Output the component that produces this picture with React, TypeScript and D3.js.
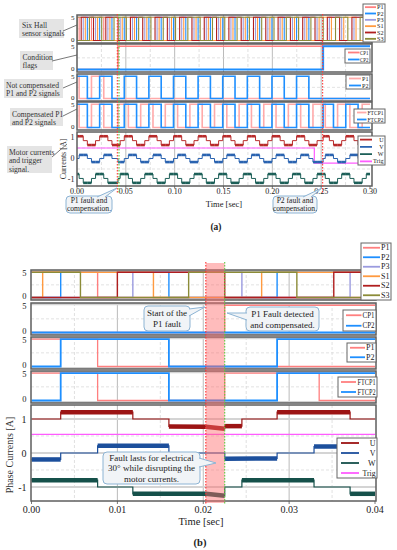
import React from "react";
import * as d3 from "d3";

type Sig = { start: number; edges: number[] };
// t0, t1, value at t0, value at t1, conducting (drawn thick)
type Seg = [number, number, number, number, number];

const FONT = "'Liberation Serif', 'Times New Roman', serif";

const COL: Record<string, string> = {
  P1: "#ff7f7f",
  P2: "#1e8fff",
  P3: "#9b9bdf",
  S1: "#ff9a40",
  S2: "#b01e1e",
  S3: "#8c8c38",
  U: "#9c1414",
  V: "#1c4f9c",
  W: "#15504a",
  Trig: "#ff5cff",
};
const HALL_KEYS = ["P1", "P2", "P3", "S1", "S2", "S3"];

// ---------------- (a) long record 0 .. 0.30 s ----------------
const A_TICKS = [0, 0.05, 0.1, 0.15, 0.2, 0.25, 0.3];
const A_MINOR = [0.025, 0.075, 0.125, 0.175, 0.225, 0.275];
// P2 edges (P2 is low before the first one)
const A_P2_EDGES = [
  -0.002, 0.0106, 0.0232, 0.0358, 0.0484, 0.061, 0.0736, 0.0862, 0.0988,
  0.1114, 0.124, 0.1366, 0.1492, 0.1618, 0.1744, 0.187, 0.1996, 0.2122,
  0.2248, 0.2374, 0.25, 0.2626, 0.2752, 0.2878, 0.3004,
];
// other sensors follow P2 with a fixed lag in s (inv = opposite level)
const A_LAGS = [
  { key: "P1", lag: 0.0042, inv: true },
  { key: "P2", lag: 0, inv: false },
  { key: "P3", lag: -0.0042, inv: true },
  { key: "S1", lag: -0.0021, inv: false },
  { key: "S2", lag: -0.0063, inv: true },
  { key: "S3", lag: 0.0021, inv: true },
];
const A_FAULTS = [
  { key: "P1", at: 0.04, detect: 0.042 },
  { key: "P2", at: 0.25, detect: 0.252 },
];
const A_TRIG: [number, number][] = [
  [0, 0.5],
  [0.243, 0.5],
  [0.243, -0.22],
  [0.3, -0.22],
];
const A_LEVELS: Record<string, [number, number]> = {
  U: [0.85, 0.21],
  V: [0, 0.17],
  W: [-0.95, 0.21],
};

// ---------------- (b) zoom 0 .. 0.04 s ----------------
const B_TICKS = [0, 0.01, 0.02, 0.03, 0.04];
const B_MINOR = [0.005, 0.015, 0.025, 0.035];
const B_HALL: Record<string, Sig> = {
  P1: { start: 5, edges: [0.0077] },
  P2: { start: 0, edges: [0.0034, 0.016, 0.0286] },
  P3: { start: 0, edges: [0.0118, 0.0245, 0.0371] },
  S1: { start: 0, edges: [0.0013, 0.0142, 0.0268, 0.0394] },
  S2: { start: 0, edges: [0.01, 0.0225, 0.0352] },
  S3: { start: 5, edges: [0.0057, 0.0183, 0.0309] },
};
const B_CP1: Sig = { start: 0, edges: [0.0225] };
const B_CP2: Sig = { start: 0, edges: [] };
const B_FTCP1: Sig = { start: 5, edges: [0.0077, 0.0225, 0.0335] };
const B_FTCP2: Sig = { start: 0, edges: [0.0034, 0.016, 0.0286] };
const B_FAULT = [0.0203, 0.0225];
const B_U: Seg[] = [
  [0, 0.0034, 1.0, 1.0, 0],
  [0.0034, 0.0118, 1.2, 1.2, 1],
  [0.0118, 0.016, 1.0, 1.0, 0],
  [0.016, 0.0203, 0.78, 0.77, 1],
  [0.0203, 0.0225, 0.77, 0.71, 1],
  [0.0225, 0.0245, 0.79, 0.79, 1],
  [0.0245, 0.0286, 1.0, 1.0, 0],
  [0.0286, 0.0371, 1.2, 1.2, 1],
  [0.0371, 0.04, 1.0, 1.0, 0],
];
const B_V: Seg[] = [
  [0, 0.0034, -0.19, -0.19, 1],
  [0.0034, 0.0077, 0, 0, 0],
  [0.0077, 0.016, 0.21, 0.21, 1],
  [0.016, 0.0225, 0, 0, 0],
  [0.0225, 0.0286, -0.17, -0.16, 1],
  [0.0286, 0.0329, 0, 0, 0],
  [0.0329, 0.04, 0.19, 0.19, 1],
];
const B_W: Seg[] = [
  [0, 0.0077, -0.8, -0.8, 1],
  [0.0077, 0.0118, -1.0, -1.0, 0],
  [0.0118, 0.0203, -1.2, -1.2, 1],
  [0.0203, 0.0225, -1.2, -1.26, 1],
  [0.0225, 0.0245, -1.0, -1.0, 0],
  [0.0245, 0.0329, -0.8, -0.8, 1],
  [0.0329, 0.0371, -1.0, -1.0, 0],
  [0.0371, 0.04, -1.2, -1.2, 1],
];
const B_TRIG: [number, number][] = [
  [0, 0.55],
  [0.04, 0.55],
];

function levelAt(s: Sig, t: number) {
  let l = s.start;
  for (const e of s.edges) if (e <= t) l = 5 - l;
  return l;
}

function stepPts(s: Sig, t0: number, t1: number): [number, number][] {
  let l = levelAt(s, t0);
  const pts: [number, number][] = [[t0, l]];
  for (const e of s.edges) {
    if (e > t0 && e < t1) {
      pts.push([e, l]);
      l = 5 - l;
      pts.push([e, l]);
    }
  }
  pts.push([t1, l]);
  return pts;
}

function Frame(props: any) {
  const { id, x, fr, top, bottom, majors, minors, hl, dl, children } = props;
  const w = fr[1] - fr[0];
  const h = bottom - top;
  return (
    <g>
      <defs>
        <clipPath id={id}>
          <rect x={fr[0]} y={top} width={w} height={h} />
        </clipPath>
      </defs>
      <rect x={fr[0]} y={top} width={w} height={h} fill="#fff" />
      <g clipPath={`url(#${id})`}>
        {minors.map((t: number) => (
          <line key={"mi" + t} x1={x(t)} x2={x(t)} y1={top} y2={bottom}
            stroke="#d2d2d2" strokeWidth={0.7} strokeDasharray="3,2" />
        ))}
        {majors.map((t: number) => (
          <line key={"ma" + t} x1={x(t)} x2={x(t)} y1={top} y2={bottom}
            stroke="#a9a9a9" strokeWidth={0.8} />
        ))}
        {dl.map((v: number) => (
          <line key={"dl" + v} x1={fr[0]} x2={fr[1]} y1={v} y2={v}
            stroke="#d6d6d6" strokeWidth={0.7} strokeDasharray="3,2" />
        ))}
        {hl.map((v: number) => (
          <line key={"hl" + v} x1={fr[0]} x2={fr[1]} y1={v} y2={v}
            stroke="#d4d4d4" strokeWidth={2.2} />
        ))}
        {children}
      </g>
      <rect x={fr[0]} y={top} width={w} height={h} fill="none" stroke="#5e5e5e" strokeWidth={1.5} />
    </g>
  );
}

// items: label, color, tl (text width in px, squeezes the glyphs)
function Legend(props: any) {
  const { x, y, w, h, items, lx0, lx1, fs, lw } = props;
  const step = h / items.length;
  return (
    <g>
      <rect x={x} y={y} width={w} height={h} fill="#fff" stroke="#666" strokeWidth={1} />
      {items.map((it: any, i: number) => {
        const cy = y + step * (i + 0.5);
        return (
          <g key={it.label}>
            <line x1={lx0} x2={lx1} y1={cy} y2={cy} stroke={it.color} strokeWidth={lw} />
            <text x={x + w - 1.5} y={cy} fontSize={fs} textAnchor="end" dominantBaseline="central" fill="#222"
              textLength={it.tl} lengthAdjust="spacingAndGlyphs">
              {it.label}
            </text>
          </g>
        );
      })}
    </g>
  );
}

function Callout(props: any) {
  const { box, tip, base, lines, fs, lh } = props;
  const [x, y, w, h] = box;
  const pts = `${base[0][0]},${base[0][1]} ${tip[0]},${tip[1]} ${base[1][0]},${base[1][1]}`;
  const y0 = y + h / 2 - ((lines.length - 1) * lh) / 2;
  return (
    <g>
      <rect x={x} y={y} width={w} height={h} rx={4} fill="#f1f4f7" stroke="#8db4d4" strokeWidth={1} />
      <polygon points={pts} fill="#f1f4f7" stroke="none" />
      <polyline points={pts} fill="none" stroke="#8db4d4" strokeWidth={1} />
      {lines.map((l: string, i: number) => (
        <text key={i} x={x + w / 2} y={y0 + i * lh} fontSize={fs} textAnchor="middle"
          dominantBaseline="central" fill="#222">
          {l}
        </text>
      ))}
    </g>
  );
}

function Note(props: any) {
  const { box, tx, lines, from, to } = props;
  return (
    <g>
      <rect x={box[0]} y={box[1]} width={box[2]} height={box[3]} fill="#e4e4e4" />
      {lines.map((l: string, i: number) => (
        <text key={i} x={tx} y={box[1] + 6 + i * 8.5} fontSize={7.6} dominantBaseline="central" fill="#333">
          {l}
        </text>
      ))}
      <line x1={from[0]} y1={from[1]} x2={to[0]} y2={to[1]} stroke="#555" strokeWidth={0.8} />
    </g>
  );
}

export default function App() {
  const xA = d3.scaleLinear().domain([0, 0.3]).range([77, 370]);
  const xB = d3.scaleLinear().domain([0, 0.04]).range([31.5, 375]);
  const frA = [77, 372];
  const frB = [31, 376];
  const rowsA = [[15, 43], [44, 72], [74, 101], [102, 130]];
  const rowsB = [[270, 300], [303, 335], [337, 369], [371, 403]];
  const yCurA = d3.scaleLinear().domain([-1, 1]).range([179.5, 137.5]);
  const yCurB = d3.scaleLinear().domain([-1, 1]).range([487, 419]);
  const curA = [132, 186];
  const curB = [405, 501];

  // (a) signals
  const aSig: Record<string, Sig> = {};
  A_LAGS.forEach(({ key, lag, inv }) => {
    aSig[key] = { start: inv ? 5 : 0, edges: A_P2_EDGES.map((e) => +(e + lag).toFixed(5)) };
  });
  const aRaw: Record<string, Sig> = { ...aSig };
  const aComp: Record<string, Sig> = { ...aSig };
  A_FAULTS.forEach((f) => {
    const s = aSig[f.key];
    aRaw[f.key] = { start: s.start, edges: s.edges.filter((e) => e < f.at - 5e-4) };
    aComp[f.key] = {
      start: s.start,
      edges: s.edges.map((e) => (Math.abs(e - f.at) < 5e-4 ? f.detect : e)),
    };
  });
  const aCP1: Sig = { start: 0, edges: [A_FAULTS[0].detect] };
  const aCP2: Sig = { start: 0, edges: [A_FAULTS[1].detect] };

  // (a) phase currents from the compensated hall states
  const times = Array.from(
    new Set([...aComp.P1.edges, ...aComp.P2.edges, ...aSig.P3.edges].filter((t) => t > 0 && t < 0.3))
  ).sort((a, b) => a - b);
  const bounds = [0, ...times, 0.3];
  const aCur: Record<string, Seg[]> = { U: [], V: [], W: [] };
  for (let i = 0; i < bounds.length - 1; i++) {
    const m = (bounds[i] + bounds[i + 1]) / 2;
    const p1 = levelAt(aComp.P1, m) > 0;
    const p2 = levelAt(aComp.P2, m) > 0;
    const p3 = levelAt(aSig.P3, m) > 0;
    const st: Record<string, number> = {
      U: p2 && !p3 ? 1 : !p2 && p3 ? -1 : 0,
      V: !p1 && p2 ? 1 : p1 && !p2 ? -1 : 0,
      W: p1 && !p3 ? 1 : !p1 && p3 ? -1 : 0,
    };
    for (const k of ["U", "V", "W"]) {
      const v = A_LEVELS[k][0] + A_LEVELS[k][1] * st[k];
      aCur[k].push([bounds[i], bounds[i + 1], v, v, st[k] !== 0 ? 1 : 0]);
    }
  }

  const sigY = (r: number[]) => d3.scaleLinear().domain([0, 5]).range([r[1] - 2.5, r[0] + 2.2]);

  const sigLines = (x: any, y: any, t1: number, list: any[]) =>
    list.map((d, i) => {
      const ln = d3
        .line<[number, number]>()
        .x((p) => x(p[0]))
        .y((p) => y(p[1]));
      return (
        <path key={i} d={ln(stepPts(d.sig, 0, t1)) || ""} fill="none" stroke={d.color}
          strokeWidth={d.w} />
      );
    });

  const curLines = (x: any, y: any, segs: Seg[], color: string, thin: number, thick: number) => {
    const ln = d3
      .line<[number, number]>()
      .x((p) => x(p[0]))
      .y((p) => y(p[1]));
    const pts: [number, number][] = segs.flatMap((s) => [
      [s[0], s[2]],
      [s[1], s[3]],
    ] as [number, number][]);
    return (
      <g>
        <path d={ln(pts) || ""} fill="none" stroke={color} strokeWidth={thin} />
        {segs
          .filter((s) => s[4])
          .map((s, i) => (
            <line key={i} x1={x(s[0])} x2={x(s[1])} y1={y(s[2])} y2={y(s[3])} stroke={color}
              strokeWidth={thick} />
          ))}
      </g>
    );
  };

  const yTicks5 = (r: number[], xe: number, fs: number, d: number, key: string) => {
    const y = sigY(r);
    return (
      <g key={key}>
        <text x={xe} y={y(5) + d} fontSize={fs} textAnchor="end" dominantBaseline="central" fill="#222">5</text>
        <text x={xe} y={y(0) - d} fontSize={fs} textAnchor="end" dominantBaseline="central" fill="#222">0</text>
      </g>
    );
  };

  const aHallList = HALL_KEYS.map((k) => ({ sig: aRaw[k], color: COL[k], w: 1.1 }));
  const bHallList = HALL_KEYS.map((k) => ({ sig: B_HALL[k], color: COL[k], w: 1.4 }));

  const aRowsContent = [
    aHallList,
    [
      { sig: aCP1, color: COL.P1, w: 1.6 },
      { sig: aCP2, color: COL.P2, w: 2 },
    ],
    [
      { sig: aRaw.P1, color: "#ffaaaa", w: 1.6 },
      { sig: aRaw.P2, color: COL.P2, w: 1.6 },
    ],
    [
      { sig: aComp.P1, color: "#ffaaaa", w: 1.6 },
      { sig: aComp.P2, color: COL.P2, w: 1.6 },
    ],
  ];
  const bRowsContent = [
    bHallList,
    [
      { sig: B_CP1, color: COL.P1, w: 1.4 },
      { sig: B_CP2, color: COL.P2, w: 2 },
    ],
    [
      { sig: B_HALL.P1, color: COL.P1, w: 1.3 },
      { sig: B_HALL.P2, color: COL.P2, w: 1.8 },
    ],
    [
      { sig: B_FTCP1, color: COL.P1, w: 1.3 },
      { sig: B_FTCP2, color: COL.P2, w: 1.8 },
    ],
  ];

  const fmt = d3.format(".2f");
  const lnA = d3
    .line<[number, number]>()
    .x((p) => xA(p[0]))
    .y((p) => yCurA(p[1]));
  const lnB = d3
    .line<[number, number]>()
    .x((p) => xB(p[0]))
    .y((p) => yCurB(p[1]));

  return (
    <svg width={397} height={550} style={{ position: "absolute", left: 0, top: 0, background: "#fff" }}
      fontFamily={FONT}>
      {/* ===================== (a) ===================== */}
      {rowsA.map((r, i) => {
        const y = sigY(r);
        return (
          <Frame key={"a" + i} id={"ca" + i} x={xA} fr={frA} top={r[0]} bottom={r[1]}
            majors={A_TICKS.slice(1, -1)} minors={A_MINOR} hl={[]} dl={[y(2.5)]}>
            {sigLines(xA, y, 0.3, aRowsContent[i])}
          </Frame>
        );
      })}
      {rowsA.map((r, i) => yTicks5(r, 74.5, 7, 0.5, "ta" + i))}
      <Frame id="caC" x={xA} fr={frA} top={curA[0]} bottom={curA[1]} majors={A_TICKS.slice(1, -1)}
        minors={A_MINOR} hl={[]} dl={[yCurA(0.5), yCurA(-0.5)]}>
        <path d={lnA(A_TRIG) || ""} fill="none" stroke={COL.Trig} strokeWidth={1.2} />
        {curLines(xA, yCurA, aCur.U, "#b82a2a", 1, 2.6)}
        {curLines(xA, yCurA, aCur.V, "#2a63b0", 1, 2.6)}
        {curLines(xA, yCurA, aCur.W, "#1c5f58", 1, 2.6)}
      </Frame>
      {[1, 0, -1].map((v) => (
        <text key={"cta" + v} x={74.5} y={yCurA(v)} fontSize={8} textAnchor="end" dominantBaseline="central"
          fill="#222">
          {v}
        </text>
      ))}
      {A_TICKS.map((t) => (
        <g key={"xa" + t}>
          <line x1={xA(t)} x2={xA(t)} y1={curA[1]} y2={curA[1] + 2.5} stroke="#555" strokeWidth={0.8} />
          <text x={xA(t)} y={191.5} fontSize={8} textAnchor="middle" dominantBaseline="central" fill="#222">
            {fmt(t)}
          </text>
        </g>
      ))}
      <text x={224} y={203.5} fontSize={8.5} textAnchor="middle" dominantBaseline="central" fill="#222">
        Time [sec]
      </text>
      <text transform="translate(63.5,159) rotate(-90)" fontSize={8} textAnchor="middle"
        dominantBaseline="central" fill="#333">
        Currents [A]
      </text>
      <text x={216} y={227} fontSize={9.5} fontWeight="bold" textAnchor="middle" dominantBaseline="central"
        fill="#222">
        (a)
      </text>

      {/* fault markers (a) */}
      <line x1={xA(0.0413)} x2={xA(0.0413)} y1={14} y2={193} stroke="#ff3b3b" strokeWidth={1.1}
        strokeDasharray="1.5,1.5" />
      <line x1={xA(0.043)} x2={xA(0.043)} y1={14} y2={193} stroke="#5ccc3c" strokeWidth={1.1}
        strokeDasharray="1.5,1.5" />
      <line x1={xA(0.2515)} x2={xA(0.2515)} y1={14} y2={193} stroke="#ff3b3b" strokeWidth={1.1}
        strokeDasharray="1.5,1.5" />

      <Note box={[19, 19, 45, 19]} tx={22} lines={["Six Hall", "sensor signals"]} from={[63, 31]} to={[77, 25]} />
      <Note box={[20, 51, 33, 19]} tx={22.5} lines={["Condition", "flags"]} from={[52, 61]} to={[77, 55]} />
      <Note box={[4, 79, 59, 19]} tx={6} lines={["Not compensated", "P1 and P2 signals"]} from={[63, 88]}
        to={[77, 82]} />
      <Note box={[10, 108, 53, 18]} tx={12} lines={["Compensated P1", "and P2 signals"]} from={[63, 116]}
        to={[77, 109]} />
      <Note box={[7, 146, 45, 27]} tx={9} lines={["Motor currents", " and trigger", "signal."]} from={[52, 157]}
        to={[67, 144]} />

      <Callout box={[66, 196, 46, 17]} tip={[117, 188]} base={[[97, 197], [105, 197]]}
        lines={["P1 fault and", "compensation."]} fs={7.6} lh={8} />
      <Callout box={[273, 196, 44, 17]} tip={[322, 188]} base={[[303, 197], [311, 197]]}
        lines={["P2 fault and", "compensation."]} fs={7.6} lh={8} />

      <Legend x={363} y={4} w={22} h={38} lx0={365} lx1={376} fs={6} lw={1.8}
        items={HALL_KEYS.map((k) => ({ label: k, color: COL[k], tl: 6.5 }))} />
      <Legend x={345} y={49} w={25} h={14} lx0={348} lx1={359.5} fs={6} lw={1.8}
        items={[{ label: "CP1", color: COL.P1, tl: 8.5 }, { label: "CP2", color: COL.P2, tl: 8.5 }]} />
      <Legend x={346} y={75} w={24} h={14} lx0={349} lx1={361} fs={6} lw={1.8}
        items={[{ label: "P1", color: "#ffaaaa", tl: 6.5 }, { label: "P2", color: COL.P2, tl: 6.5 }]} />
      <Legend x={354} y={109} w={31} h={14} lx0={357} lx1={366.5} fs={6} lw={1.8}
        items={[
          { label: "FTCP1", color: "#ffaaaa", tl: 16 },
          { label: "FTCP2", color: COL.P2, tl: 16 },
        ]} />
      <Legend x={358} y={136} w={27} h={29} lx0={360} lx1={372} fs={6} lw={1.8}
        items={[
          { label: "U", color: "#b82a2a" },
          { label: "V", color: "#2a63b0" },
          { label: "W", color: "#1c5f58" },
          { label: "Trig", color: COL.Trig, tl: 10.5 },
        ]} />

      {/* ===================== (b) ===================== */}
      {rowsB.map((r, i) => {
        const y = sigY(r);
        return (
          <Frame key={"b" + i} id={"cb" + i} x={xB} fr={frB} top={r[0]} bottom={r[1]}
            majors={B_TICKS.slice(1, -1)} minors={B_MINOR} hl={[y(0) + 1.5, y(5) - 1]} dl={[y(2.5)]}>
            {sigLines(xB, y, 0.04, bRowsContent[i])}
          </Frame>
        );
      })}
      {rowsB.map((r, i) => yTicks5(r, 26.5, 8.5, 1.2, "tb" + i))}
      <Frame id="cbC" x={xB} fr={frB} top={curB[0]} bottom={curB[1]} majors={B_TICKS.slice(1, -1)}
        minors={B_MINOR} hl={[yCurB(-1), yCurB(0), yCurB(1)]} dl={[yCurB(0.5), yCurB(-0.5)]}>
        <path d={lnB(B_TRIG) || ""} fill="none" stroke={COL.Trig} strokeWidth={1.3} />
        {curLines(xB, yCurB, B_U, COL.U, 1.2, 4.5)}
        {curLines(xB, yCurB, B_V, COL.V, 1.2, 4.5)}
        {curLines(xB, yCurB, B_W, COL.W, 1.2, 4.5)}
      </Frame>
      {[1, 0, -1].map((v) => (
        <text key={"ctb" + v} x={26.5} y={yCurB(v)} fontSize={10} textAnchor="end" dominantBaseline="central"
          fill="#222">
          {v}
        </text>
      ))}
      {B_TICKS.map((t) => (
        <g key={"xb" + t}>
          <line x1={xB(t)} x2={xB(t)} y1={curB[1]} y2={curB[1] + 3} stroke="#555" strokeWidth={0.8} />
          <text x={xB(t)} y={509} fontSize={10} textAnchor="middle" dominantBaseline="central" fill="#222">
            {fmt(t)}
          </text>
        </g>
      ))}
      <text x={201} y={521} fontSize={10.5} textAnchor="middle" dominantBaseline="central" fill="#222">
        Time [sec]
      </text>
      <text transform="translate(9,455) rotate(-90)" fontSize={10} textAnchor="middle" dominantBaseline="central"
        fill="#333">
        Phase Currents [A]
      </text>
      <text x={200} y={542} fontSize={10.5} fontWeight="bold" textAnchor="middle" dominantBaseline="central"
        fill="#222">
        (b)
      </text>

      {/* fault window (b) */}
      <rect x={xB(B_FAULT[0])} y={263} width={xB(B_FAULT[1]) - xB(B_FAULT[0])} height={240} fill="#ff6b6b"
        opacity={0.45} />
      <line x1={xB(B_FAULT[0])} x2={xB(B_FAULT[0])} y1={262} y2={505} stroke="#ff3030" strokeWidth={1.1}
        strokeDasharray="1.5,1.5" />
      <line x1={xB(B_FAULT[1])} x2={xB(B_FAULT[1])} y1={262} y2={505} stroke="#5ccc3c" strokeWidth={1.1}
        strokeDasharray="1.5,1.5" />

      <Callout box={[144, 306, 46, 25]} tip={[205, 307]} base={[[189, 309], [189, 316]]}
        lines={["Start of the", "P1 fault"]} fs={9} lh={11} />
      <Callout box={[246, 307, 73, 24]} tip={[227, 313]} base={[[247, 313], [247, 320]]}
        lines={["P1 Fault detected", "and compensated."]} fs={9} lh={11} />
      <Callout box={[103, 452, 97, 32]} tip={[216, 463]} base={[[199, 458], [199, 467]]}
        lines={["Fault lasts for electrical", "30\u00b0 while disrupting the", "motor currents."]} fs={9}
        lh={10.5} />

      <Legend x={361} y={243} w={30} h={57} lx0={363} lx1={380} fs={8} lw={1.8}
        items={HALL_KEYS.map((k) => ({ label: k, color: COL[k], tl: 8.5 }))} />
      <Legend x={343} y={310} w={33} h={21} lx0={346} lx1={361.5} fs={8} lw={1.8}
        items={[{ label: "CP1", color: COL.P1, tl: 12 }, { label: "CP2", color: COL.P2, tl: 12 }]} />
      <Legend x={347} y={343} w={29} h={19} lx0={350} lx1={365} fs={8} lw={1.8}
        items={[{ label: "P1", color: COL.P1, tl: 8.5 }, { label: "P2", color: COL.P2, tl: 8.5 }]} />
      <Legend x={338} y={377} w={39} h={20} lx0={341} lx1={356} fs={8} lw={1.8}
        items={[
          { label: "FTCP1", color: COL.P1, tl: 18 },
          { label: "FTCP2", color: COL.P2, tl: 18 },
        ]} />
      <Legend x={337} y={438} w={40} h={40} lx0={341} lx1={359} fs={8} lw={1.8}
        items={[
          { label: "U", color: COL.U },
          { label: "V", color: COL.V },
          { label: "W", color: COL.W },
          { label: "Trig", color: COL.Trig, tl: 13 },
        ]} />
    </svg>
  );
}
